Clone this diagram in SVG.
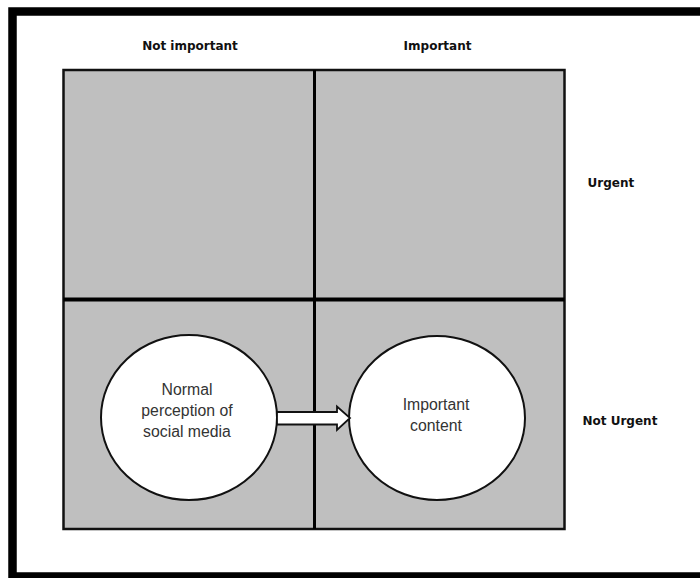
<svg xmlns="http://www.w3.org/2000/svg" width="700" height="578" viewBox="0 0 700 578">
<style>
.axis{font-family:"DejaVu Sans",Verdana,sans-serif;font-weight:bold;font-size:12px;fill:#111}
.node circle,.node ellipse{fill:#fff;stroke:#111;stroke-width:2}
.lbl{font-family:"Liberation Sans",Arial,sans-serif;font-size:15.8px;fill:#333;text-anchor:middle}
.quad{fill:#bfbfbf;stroke:none}
</style>
<rect x="0" y="0" width="700" height="578" fill="#fff"/>
<rect x="12.5" y="11.5" width="700" height="565" fill="#fff" stroke="#000" stroke-width="8.5"/>
<g id="matrix">
<rect class="quad" x="63.5" y="70" width="501" height="459"/>
<rect x="63.5" y="70" width="501" height="459" fill="none" stroke="#111" stroke-width="2.5"/>
<line x1="314.5" y1="70" x2="314.5" y2="529" stroke="#000" stroke-width="3"/>
<line x1="63.5" y1="299.5" x2="564.5" y2="299.5" stroke="#000" stroke-width="4"/>
</g>
<g id="labels">
<text class="axis" x="190" y="50" text-anchor="middle">Not important</text>
<text class="axis" x="437.5" y="50" text-anchor="middle">Important</text>
<text class="axis" x="587.5" y="187">Urgent</text>
<text class="axis" x="582.5" y="425">Not Urgent</text>
</g>
<g id="node-normal" class="node">
<ellipse cx="189" cy="417.5" rx="88" ry="82.5"/>
<text class="lbl" x="187" y="395">Normal</text>
<text class="lbl" x="187" y="416">perception of</text>
<text class="lbl" x="187" y="437">social media</text>
</g>
<g id="node-important" class="node">
<ellipse cx="437" cy="418" rx="88" ry="82"/>
<text class="lbl" x="436" y="410">Important</text>
<text class="lbl" x="436" y="431">content</text>
</g>
<g id="connectors">
<path d="M277,412 L337,412 L337,406.5 L350,418 L337,430 L337,424.5 L277,424.5 Z" fill="#fff" stroke="#111" stroke-width="1.8" stroke-linejoin="miter"/>
</g>
</svg>
